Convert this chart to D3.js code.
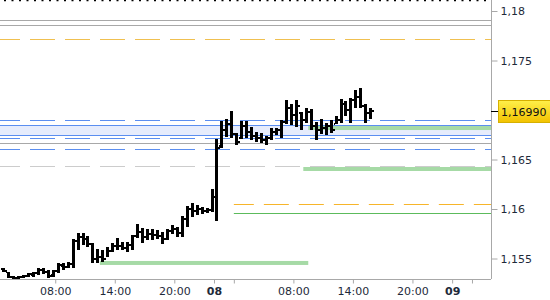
<!DOCTYPE html>
<html>
<head>
<meta charset="utf-8">
<script src="https://cdn.jsdelivr.net/npm/d3@7"></script>
<style>
  body { margin: 0; background: #fff; }
  svg { display: block; font-family: "DejaVu Sans", sans-serif; }
</style>
</head>
<body>
<svg id="chart"></svg>
<script>
// half-hour OHLC bars, first bar opens 07 02:30
const firstBar = '2025-07-07T02:30:00Z';
const opens  = [1.1539,1.1536,1.1531,1.1530,1.1531,1.1532,1.1533,1.1535,1.1538,1.1536,1.1533,1.1537,1.1542,1.1541,1.1544,1.1568,1.1572,1.1570,1.1565,1.1549,
                1.1552,1.1550,1.1558,1.1563,1.1563,1.1561,1.1564,1.1573,1.1577,1.1572,1.1575,1.1574,1.1573,1.1570,1.1578,1.1580,1.1576,1.1590,1.1600,1.1598,
                1.1600,1.1598,1.1599,1.1612,1.1664,1.1680,1.1686,1.1676,1.1672,1.1684,1.1678,1.1674,1.1672,1.1670,1.1672,1.1678,1.1680,1.1688,1.1702,1.1695,
                1.1697,1.1690,1.1698,1.1684,1.1680,1.1682,1.1684,1.1686,1.1690,1.1706,1.1700,1.1710,1.1713,1.1704,1.1697];
const highs  = [1.1540,1.1536,1.1532,1.1532,1.1533,1.1535,1.1536,1.1540,1.1540,1.1538,1.1538,1.1545,1.1545,1.1546,1.1570,1.1576,1.1576,1.1573,1.1566,1.1560,
                1.1559,1.1562,1.1566,1.1571,1.1567,1.1567,1.1574,1.1585,1.1581,1.1580,1.1580,1.1579,1.1577,1.1580,1.1584,1.1582,1.1593,1.1603,1.1606,1.1604,
                1.1602,1.1601,1.1620,1.1671,1.1689,1.1691,1.1699,1.1677,1.1689,1.1689,1.1683,1.1678,1.1677,1.1674,1.1682,1.1682,1.1690,1.1710,1.1706,1.1710,
                1.1698,1.1702,1.1701,1.1688,1.1691,1.1687,1.1690,1.1694,1.1711,1.1709,1.1712,1.1720,1.1722,1.1706,1.1702];
const lows   = [1.1536,1.1530,1.1529,1.1529,1.1530,1.1531,1.1531,1.1533,1.1534,1.1530,1.1531,1.1535,1.1538,1.1540,1.1540,1.1559,1.1564,1.1562,1.1545,1.1545,
                1.1546,1.1552,1.1557,1.1559,1.1559,1.1557,1.1559,1.1571,1.1566,1.1569,1.1569,1.1570,1.1565,1.1569,1.1575,1.1572,1.1572,1.1582,1.1592,1.1594,
                1.1595,1.1596,1.1597,1.1588,1.1662,1.1673,1.1672,1.1665,1.1671,1.1672,1.1670,1.1668,1.1667,1.1665,1.1670,1.1675,1.1672,1.1686,1.1685,1.1683,
                1.1680,1.1687,1.1680,1.1670,1.1676,1.1675,1.1677,1.1686,1.1687,1.1694,1.1687,1.1702,1.1702,1.1687,1.1691];
const closes = [1.1537,1.1531,1.1530,1.1531,1.1532,1.1534,1.1535,1.1538,1.1536,1.1532,1.1537,1.1543,1.1541,1.1544,1.1568,1.1572,1.1570,1.1565,1.1549,1.1552,
                1.1550,1.1558,1.1563,1.1563,1.1561,1.1564,1.1573,1.1577,1.1572,1.1575,1.1574,1.1573,1.1570,1.1578,1.1580,1.1576,1.1590,1.1600,1.1598,1.1600,
                1.1598,1.1599,1.1612,1.1662,1.1680,1.1686,1.1676,1.1668,1.1684,1.1678,1.1674,1.1672,1.1670,1.1672,1.1678,1.1680,1.1688,1.1702,1.1695,1.1704,
                1.1690,1.1698,1.1684,1.1680,1.1682,1.1684,1.1680,1.1690,1.1706,1.1700,1.1710,1.1713,1.1704,1.1697,1.1699];

const lastPrice = 1.16990;

// horizontal levels: price, start time (null = whole chart), kind
const levelPrices = [1.17909, 1.17859, 1.17717, 1.16899, 1.16848, 1.16747, 1.16717, 1.16667, 1.16606, 1.16434, 1.16051, 1.15960];
const levelStarts = [null, null, null, null, null, null, null, null, null, null, '2025-07-08T02:00:00Z', '2025-07-08T02:00:00Z'];
const levelKinds  = ['gray','gray','orangeDash','blueDash','blue','blue','blueDash','gray','blueDash','grayDash','orangeDash2','green'];

// shaded zone between two blue lines
const zoneLow = 1.16747, zoneHigh = 1.16848;

// green zones: price, from, to
const greenPrices = [1.16818, 1.16404, 1.15455];
const greenFrom   = ['2025-07-08T09:30:00Z', '2025-07-08T09:00:00Z', '2025-07-07T12:30:00Z'];
const greenTo     = [null, null, '2025-07-08T09:30:00Z'];

const yTicks      = [1.155, 1.16, 1.165, 1.175, 1.18];
const yTickLabels = ['1,155', '1,16', '1,165', '1,175', '1,18'];
const xTicks      = ['2025-07-07T08:00:00Z','2025-07-07T14:00:00Z','2025-07-07T20:00:00Z','2025-07-08T00:00:00Z','2025-07-08T02:00:00Z',
                     '2025-07-08T08:00:00Z','2025-07-08T14:00:00Z','2025-07-08T20:00:00Z','2025-07-09T00:00:00Z','2025-07-09T02:00:00Z'];
const xTickLabels = ['08:00','14:00','20:00','08','','08:00','14:00','20:00','09',''];
const dayTicks    = ['08','09'];

const W = 550, H = 300;
const plotR = 491, plotB = 279;

const svg = d3.select('#chart').attr('width', W).attr('height', H);

const x = d3.scaleUtc()
  .domain([new Date('2025-07-07T02:26:00Z'), new Date('2025-07-09T03:55:00Z')])
  .range([0, plotR]);
const y = d3.scaleLinear().domain([1.155, 1.18]).range([258.5, 11]);

const styles = {
  gray:        { stroke: '#a8a8a8', dash: null },
  grayDash:    { stroke: '#cccccc', dash: '25,10' },
  orangeDash:  { stroke: '#f0c050', dash: '25,10' },
  orangeDash2: { stroke: '#f7b52a', dash: '25,10' },
  blue:        { stroke: '#5b8ef0', dash: null },
  blueDash:    { stroke: '#5b8ef0', dash: '25,10' },
  green:       { stroke: '#5cbb5c', dash: null }
};

const bars = opens.map((o, i) => ({
  t: d3.utcMinute.offset(new Date(firstBar), i * 30 + 15),
  o, h: highs[i], l: lows[i], c: closes[i]
}));

// top dotted border
svg.append('line')
  .attr('x1', 4).attr('x2', plotR).attr('y1', 0.5).attr('y2', 0.5)
  .attr('stroke', '#000').attr('stroke-width', 1.5).attr('stroke-dasharray', '2,5.5');

// blue zone fill
svg.append('rect')
  .attr('x', 0).attr('width', plotR)
  .attr('y', y(zoneHigh)).attr('height', y(zoneLow) - y(zoneHigh))
  .attr('fill', '#e6ecfc');

// green zones
svg.selectAll('.gz')
  .data(greenPrices)
  .enter()
  .append('rect')
  .attr('class', 'gz')
  .attr('x', (d, i) => x(new Date(greenFrom[i])))
  .attr('width', (d, i) => (greenTo[i] ? x(new Date(greenTo[i])) : plotR) - x(new Date(greenFrom[i])))
  .attr('y', d => y(d) - 2)
  .attr('height', 4)
  .attr('fill', '#a6daa6');

// level lines
svg.selectAll('.lvl')
  .data(levelPrices)
  .enter()
  .append('line')
  .attr('class', 'lvl')
  .attr('x1', (d, i) => levelStarts[i] ? x(new Date(levelStarts[i])) : 0)
  .attr('x2', plotR)
  .attr('y1', d => Math.round(y(d)) + 0.5)
  .attr('y2', d => Math.round(y(d)) + 0.5)
  .attr('stroke', (d, i) => styles[levelKinds[i]].stroke)
  .attr('stroke-dasharray', (d, i) => styles[levelKinds[i]].dash)
  .attr('stroke-dashoffset', 5)
  .attr('stroke-width', 1);

// OHLC bars
const barG = svg.append('g').attr('shape-rendering', 'crispEdges');
const bar = barG.selectAll('.bar')
  .data(bars)
  .enter()
  .append('g')
  .classed('bar', true);

bar.append('rect')
  .attr('x', d => Math.round(x(d.t)) - 1)
  .attr('y', d => y(d.h))
  .attr('width', 3)
  .attr('height', d => Math.max(2, y(d.l) - y(d.h)))
  .attr('fill', '#000');
bar.append('rect')
  .attr('x', d => Math.round(x(d.t)) - 2.5)
  .attr('y', d => y(d.o) - 1)
  .attr('width', 1.5).attr('height', 2)
  .attr('fill', '#000');
bar.append('rect')
  .attr('x', d => Math.round(x(d.t)) + 2)
  .attr('y', d => y(d.c) - 1)
  .attr('width', 1.5).attr('height', 2)
  .attr('fill', '#000');

// axes
const xAxis = svg.append('g')
  .attr('transform', `translate(0, ${plotB + 0.5})`)
  .call(d3.axisBottom(x)
    .tickValues(xTicks.map(d => new Date(d)))
    .tickSize(4)
    .tickSizeOuter(0)
    .tickFormat((d, i) => xTickLabels[i]));
xAxis.select('.domain').attr('stroke', '#a8a8a8').attr('d', `M0,0H${plotR}`);
xAxis.selectAll('.tick line').attr('stroke', '#a8a8a8');
xAxis.selectAll('.tick text')
  .attr('y', 8)
  .attr('font-size', 11)
  .attr('font-family', '"DejaVu Sans", sans-serif')
  .attr('fill', '#1e2a3a')
  .attr('font-weight', (d, i) => dayTicks.includes(xTickLabels[i]) ? 'bold' : null);

const yAxis = svg.append('g')
  .attr('transform', `translate(${plotR + 0.5}, 0)`)
  .call(d3.axisRight(y)
    .tickValues(yTicks)
    .tickSize(6)
    .tickSizeOuter(0)
    .tickFormat((d, i) => yTickLabels[i]));
yAxis.select('.domain').attr('stroke', '#a8a8a8').attr('d', `M0,0V${plotB}`);
yAxis.selectAll('.tick line').attr('stroke', '#a8a8a8');
yAxis.selectAll('.tick text')
  .attr('x', 9)
  .attr('font-size', 11)
  .attr('font-family', '"DejaVu Sans", sans-serif')
  .attr('fill', '#1e2a3a');

// last price marker
const defs = svg.append('defs');
const grad = defs.append('linearGradient').attr('id', 'gold').attr('x1', 0).attr('x2', 0).attr('y1', 0).attr('y2', 1);
grad.append('stop').attr('offset', '0%').attr('stop-color', '#fff04a');
grad.append('stop').attr('offset', '100%').attr('stop-color', '#f2c200');

const py = Math.round(y(lastPrice)) + 0.5;
svg.append('line')
  .attr('x1', plotR).attr('x2', plotR + 7)
  .attr('y1', py).attr('y2', py)
  .attr('stroke', '#000');
svg.append('rect')
  .attr('x', 498.5).attr('y', py - 11)
  .attr('width', 52).attr('height', 22)
  .attr('fill', 'url(#gold)')
  .attr('stroke', '#d6b000');
svg.append('text')
  .attr('x', 501).attr('y', py + 4)
  .attr('font-size', 11)
  .attr('fill', '#111')
  .text(d3.format('.5f')(lastPrice).replace('.', ','));
</script>
</body>
</html>
